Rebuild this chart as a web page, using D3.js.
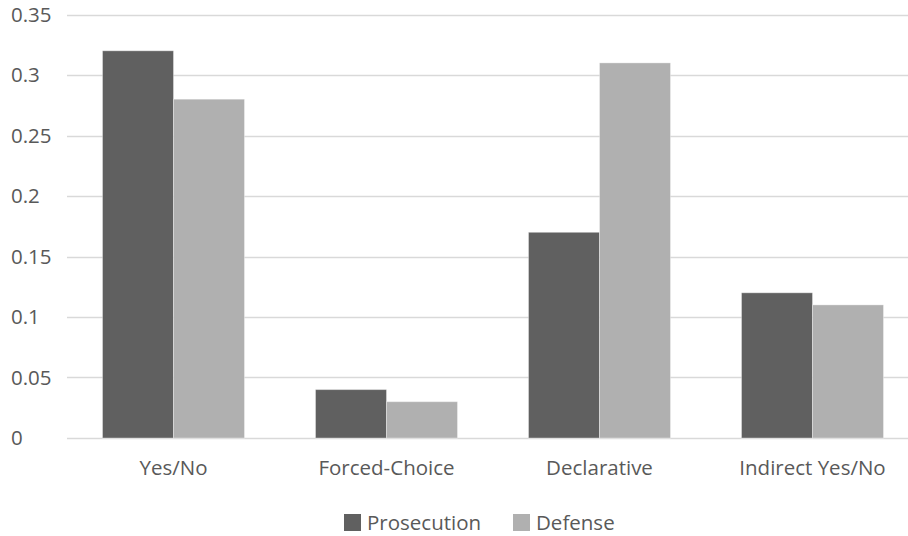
<!DOCTYPE html>
<html>
<head>
<meta charset="utf-8">
<script src="https://cdn.jsdelivr.net/npm/d3@7/dist/d3.min.js"></script>
<style>
  html, body { margin: 0; padding: 0; background: #fff; }
  svg { display: block; }
  text { font-family: "Open Sans", "Noto Sans", sans-serif; fill: #595959; }
</style>
</head>
<body>
<svg id="chart" width="908" height="536"></svg>
<script>
// Question types and the share of each asked by each side
const categories = ["Yes/No", "Forced-Choice", "Declarative", "Indirect Yes/No"];
const seriesNames = ["Prosecution", "Defense"];
const prosecution = [0.32, 0.04, 0.17, 0.12];
const defense = [0.28, 0.03, 0.31, 0.11];
const yTicks = [0, 0.05, 0.1, 0.15, 0.2, 0.25, 0.3, 0.35];
const yTickLabels = ["0", "0.05", "0.1", "0.15", "0.2", "0.25", "0.3", "0.35"];
const colors = ["#606060", "#b0b0b0"];

const svg = d3.select("#chart");
const W = 908, H = 536;
const plotLeft = 67, plotRight = 919, plotTop = 14.5, plotBottom = 438;
const fontSize = 20.5;

const x0 = d3.scaleBand().domain(categories).range([plotLeft, plotRight]).paddingInner(0).paddingOuter(0);
const x1 = d3.scaleBand().domain(seriesNames).range([x0.bandwidth() / 6, x0.bandwidth() * 5 / 6]);
const y = d3.scaleLinear().domain([0, 0.35]).range([plotBottom, plotTop]);

const values = [prosecution, defense];

// Horizontal gridlines
svg.append("g")
  .selectAll("line")
  .data(yTicks)
  .join("line")
  .attr("x1", plotLeft)
  .attr("x2", W)
  .attr("y1", d => Math.round(y(d)) + 0.5)
  .attr("y2", d => Math.round(y(d)) + 0.5)
  .attr("stroke", "#d9d9d9")
  .attr("stroke-width", 1.5);

// Y tick labels, left-aligned
svg.append("g")
  .selectAll("text")
  .data(yTicks)
  .join("text")
  .attr("x", 11)
  .attr("y", d => y(d))
  .attr("dy", "0.35em")
  .attr("font-size", fontSize)
  .text((d, i) => yTickLabels[i]);

// Bars
const groups = svg.append("g")
  .selectAll("g")
  .data(categories)
  .join("g")
  .attr("transform", d => `translate(${x0(d)},0)`);

groups.selectAll("rect")
  .data((c, ci) => seriesNames.map((s, si) => ({ s, si, v: values[si][ci] })))
  .join("rect")
  .attr("x", d => x1(d.s))
  .attr("width", x1.bandwidth())
  .attr("y", d => y(d.v))
  .attr("height", d => plotBottom - y(d.v))
  .attr("fill", d => colors[d.si])
  .attr("stroke", "rgba(255,255,255,0.35)")
  .attr("stroke-width", 1);

// Category labels
svg.append("g")
  .selectAll("text")
  .data(categories)
  .join("text")
  .attr("x", d => x0(d) + x0.bandwidth() / 2)
  .attr("y", 468)
  .attr("dy", "0.35em")
  .attr("text-anchor", "middle")
  .attr("font-size", fontSize)
  .text(d => d);

// Legend
const legendItems = [
  { name: seriesNames[0], color: colors[0], x: 344 },
  { name: seriesNames[1], color: colors[1], x: 513 }
];
const lg = svg.append("g")
  .selectAll("g")
  .data(legendItems)
  .join("g")
  .attr("transform", d => `translate(${d.x},0)`);
lg.append("rect")
  .attr("x", 0)
  .attr("y", 514)
  .attr("width", 17)
  .attr("height", 17)
  .attr("fill", d => d.color);
lg.append("text")
  .attr("x", 23)
  .attr("y", 523)
  .attr("dy", "0.35em")
  .attr("font-size", fontSize)
  .text(d => d.name);
</script>
</body>
</html>
